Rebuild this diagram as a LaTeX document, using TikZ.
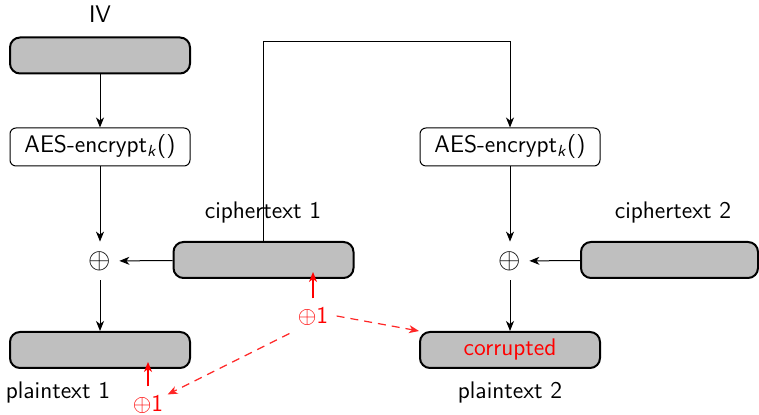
\documentclass[tikz,border=0pt]{standalone}
\usetikzlibrary{arrows.meta}
\begin{document}
\begin{tikzpicture}[x=0.5pt,y=-0.5pt,
  font=\fontsize{12}{14}\selectfont\sffamily,
  block/.style={draw,line width=1pt,rounded corners=5pt,fill=gray!50,minimum width=90pt,minimum height=18pt,inner sep=0pt},
  fbox/.style={draw,line width=0.5pt,rounded corners=3pt,minimum width=90pt,minimum height=19pt,inner sep=0pt},
  lab/.style={inner sep=0pt},
  xor/.style={circle,inner sep=0pt,minimum size=19pt,font=\fontsize{14}{16}\selectfont},
  flip/.style={red,inner sep=4pt},
  conn/.style={line width=0.5pt,-{Stealth[length=5pt,width=4pt,inset=1.5pt]}},
  redarr/.style={red,line width=0.6pt,-{Stealth[length=5pt,width=4pt,inset=1.5pt]}},
  reddash/.style={red!85,line width=0.6pt,dash pattern=on 4pt off 3pt,-{Stealth[length=5pt,width=4pt,inset=1.5pt]}}]
\useasboundingbox (0,0) rectangle (759,415);
% left column
\node[lab] (ivl) at (100,14) {IV};
\node[block] (iv) at (100,55.5) {};
\node[fbox] (aes1) at (100,147) {AES-encrypt\textsubscript{\textit{k}}()};
\node[xor] (x1) at (100,261) {$\oplus$};
\node[block] (p1) at (100,350) {};
\node[lab] (p1l) at (58,393) {plaintext 1};
% ciphertext 1
\node[block] (c1) at (263.5,260) {};
\node[lab] (c1l) at (263,213) {ciphertext 1};
% right column
\node[fbox] (aes2) at (510,147) {AES-encrypt\textsubscript{\textit{k}}()};
\node[xor] (x2) at (510,261) {$\oplus$};
\node[block] (p2) at (510,350) {\textcolor{red}{corrupted}};
\node[lab] (p2l) at (510,393) {plaintext 2};
\node[block,minimum width=88.5pt] (c2) at (669.5,260) {};
\node[lab] (c2l) at (673,213) {ciphertext 2};
% red flips
\node[flip] (f1) at (313,316) {$\oplus$1};
\node[flip] (f2) at (148,404) {$\oplus$1};
\coordinate (f1t) at (313,272);
\coordinate (f2t) at (148,362);
\coordinate (top) at (263,42);
% connectors
\draw[conn] (iv) -- (aes1);
\draw[conn] (aes1) -- (x1);
\draw[conn] (x1) -- (p1);
\draw[conn] (c1) -- (x1);
\draw[conn] (c1.north -| top) -- (top) -| (aes2);
\draw[conn] (aes2) -- (x2);
\draw[conn] (x2) -- (p2);
\draw[conn] (c2) -- (x2);
\draw[redarr] (f1) -- (f1t);
\draw[redarr] (f2) -- (f2t);
\draw[reddash] (f1.east) -- (p2.north west);
\draw[reddash] (f1.south west) -- ([xshift=-2,yshift=-4]f2.north east);
\end{tikzpicture}
\end{document}
